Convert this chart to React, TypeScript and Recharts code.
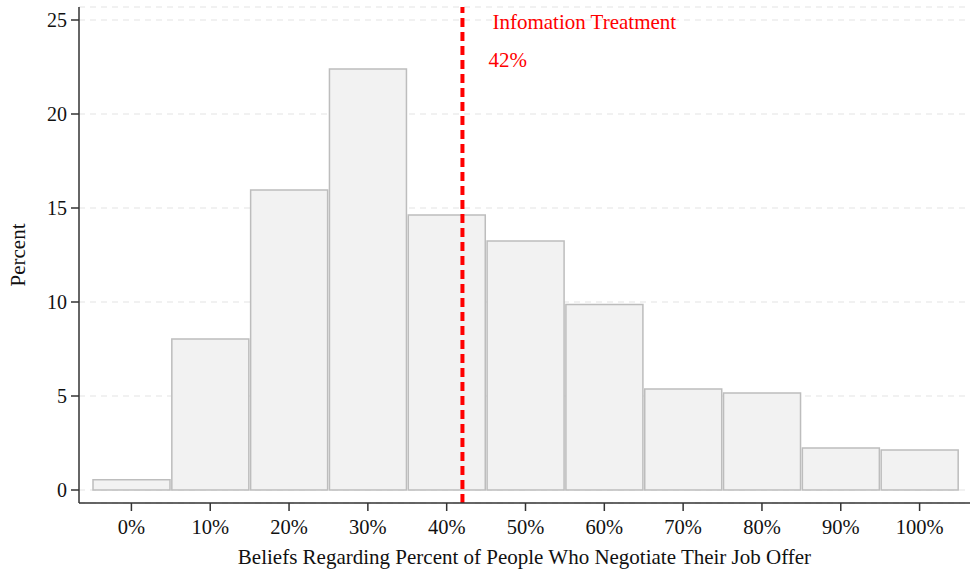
import { ComposedChart, Bar, XAxis, YAxis, CartesianGrid, ReferenceLine } from "recharts";

const beliefBins = [0, 10, 20, 30, 40, 50, 60, 70, 80, 90, 100];
const percentValues = [0.55, 8.03, 15.96, 22.39, 14.63, 13.24, 9.87, 5.37, 5.16, 2.23, 2.13];
const yTicks = [0, 5, 10, 15, 20, 25];
const treatmentValue = 42;
const treatmentTitle = "Infomation Treatment";
const treatmentLabel = "42%";

const data = beliefBins.map((b, i) => ({ bin: b, pct: percentValues[i] }));

const FONT = "'Liberation Serif', 'Times New Roman', serif";

const TreatmentLabel = (props: any) => {
  const x = props.viewBox.x;
  const y = props.viewBox.y;
  return (
    <g>
      <text x={x + 30} y={y + 22} fill="#ff0000" fontSize={21} fontFamily={FONT}>
        {treatmentTitle}
      </text>
      <text x={x + 26} y={y + 60} fill="#ff0000" fontSize={21} fontFamily={FONT}>
        {treatmentLabel}
      </text>
    </g>
  );
};

export default function App() {
  return (
    <div style={{ position: "absolute", left: 0, top: 0, width: 970, height: 569, background: "#fff" }}>
      <ComposedChart
        width={970}
        height={569}
        data={data}
        margin={{ top: 7, right: 0, bottom: 0, left: 0 }}
        barCategoryGap={1}
      >
        <CartesianGrid vertical={false} stroke="#e3e3e3" strokeDasharray="6 5" />
        <XAxis
          dataKey="bin"
          type="number"
          domain={[-5, 105]}
          ticks={beliefBins}
          padding={{ left: 13, right: 11 }}
          tickFormatter={(v) => `${v}%`}
          height={66}
          tickSize={8}
          tickMargin={8}
          stroke="#333"
          strokeWidth={1.5}
          tick={{ fill: "#111", fontSize: 20.5, fontFamily: FONT }}
          label={{ value: "Beliefs Regarding Percent of People Who Negotiate Their Job Offer", position: "insideBottom", offset: 5, fill: "#111", fontSize: 21, fontFamily: FONT }}
        />
        <YAxis
          type="number"
          domain={[0, 25]}
          ticks={yTicks}
          padding={{ top: 13, bottom: 13 }}
          width={79}
          tickSize={8}
          tickMargin={4}
          stroke="#333"
          strokeWidth={1.5}
          tick={{ fill: "#111", fontSize: 20, fontFamily: FONT }}
          label={{ value: "Percent", angle: -90, position: "insideLeft", offset: 18, fill: "#111", fontSize: 21, fontFamily: FONT, style: { textAnchor: "middle" } }}
        />
        <Bar dataKey="pct" fill="#f2f2f2" stroke="#bdbdbd" strokeWidth={1.5} isAnimationActive={false} />
        <ReferenceLine
          x={treatmentValue}
          stroke="#ff0000"
          strokeWidth={4}
          strokeDasharray="9 5"
          label={<TreatmentLabel />}
        />
      </ComposedChart>
    </div>
  );
}
